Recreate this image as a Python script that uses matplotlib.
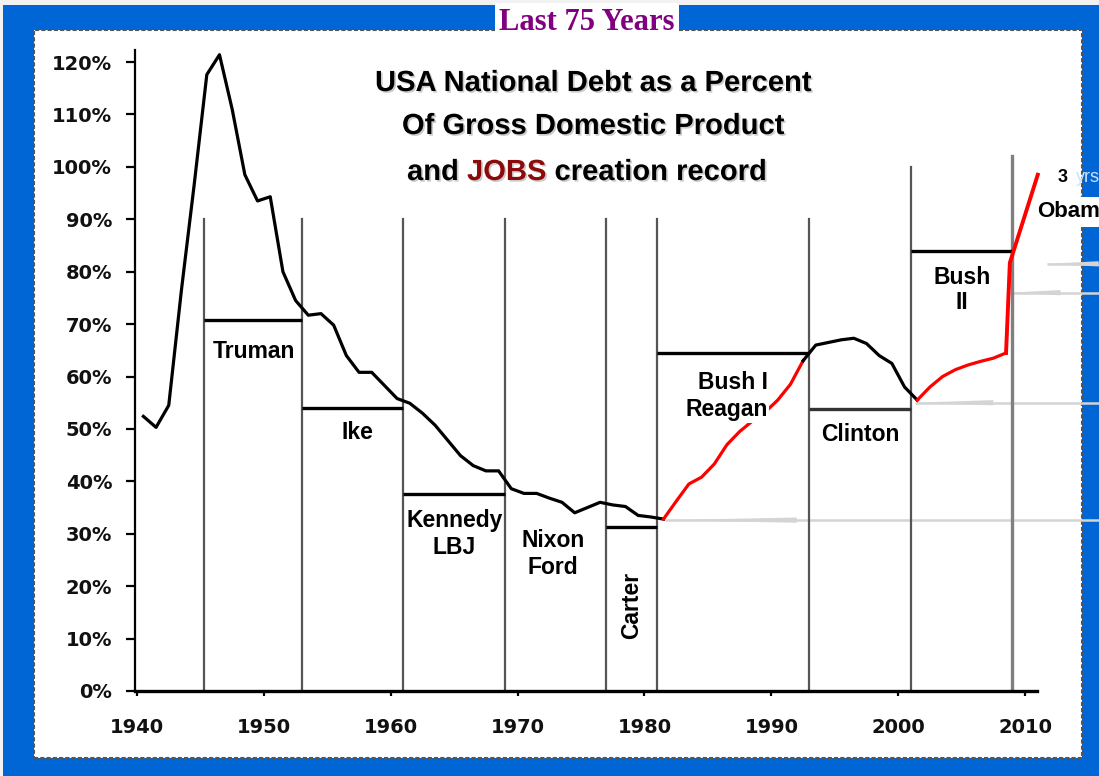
import numpy as np
import matplotlib
matplotlib.use('Agg')
import matplotlib.pyplot as plt
from matplotlib.patches import Rectangle
import matplotlib.patheffects as pe

# debt as % of GDP (plotted at mid-year)
years = np.arange(1940, 2009) + 0.5
debt = [52.4, 50.3, 54.5, 76.5, 96.5, 117.6, 121.4, 111, 98.5, 93.5,
        94.3, 80, 74.5, 71.7, 72, 69.8, 64, 60.8, 60.8, 58.3,
        55.8, 54.9, 53, 50.7, 47.8, 44.9, 43, 42, 42, 38.6,
        37.7, 37.7, 36.8, 36, 34, 35, 36, 35.5, 35.2, 33.5,
        33.2, 32.8, 36.2, 39.5, 40.8, 43.3, 47, 49.5, 51.5, 53.2,
        55.5, 58.5, 63, 66, 66.5, 67, 67.3, 66.3, 64, 62.5,
        58, 55.5, 58, 60, 61.3, 62.2, 62.9, 63.5, 64.5]
debt = np.array(debt)

obama_x = [2008.5, 2008.8, 2011.0]
obama_y = [64.5, 81.7, 98.5]

term_starts = [1945.25, 1953, 1961, 1969, 1977, 1981, 1993, 2001, 2009]
line_tops = [90, 90, 90, 90, 90, 90, 90, 100, 102]

bar_start = [1945.25, 1953, 1961, 1977, 1981, 1993, 2001]
bar_end = [1953, 1961, 1969, 1981, 1993, 2001, 2009]
bar_level = [70.8, 54, 37.6, 31.3, 64.5, 53.8, 84]

# gray pointer arrows: level, tip year, year where the wedge reaches full width
arrow_level = [32.6, 55, 76, 81.5]
arrow_tip = [1981.6, 2001.3, 2008.8, 2011.7]
arrow_base = [1992.0, 2007.5, 2012.8, 2015.8]

FONT = 'Liberation Sans'

fig = plt.figure(figsize=(10.99, 7.76), dpi=100, facecolor='#0066d5')
W, H = 1099, 776

# light strips at the very top/left and the white panel
fig.add_artist(Rectangle((0, 1 - 5 / H), 1, 5 / H, transform=fig.transFigure,
                         facecolor='#f2f2f2', edgecolor='none', zorder=-20))
fig.add_artist(Rectangle((0, 0), 3 / W, 1, transform=fig.transFigure,
                         facecolor='#f2f2f2', edgecolor='none', zorder=-20))
fig.add_artist(Rectangle((34 / W, 1 - 758 / H), (1082 - 34) / W, (758 - 30) / H,
                         transform=fig.transFigure, facecolor='white',
                         edgecolor='#555555', lw=1.5, ls=(0, (2, 1)), zorder=-10))

ax = fig.add_axes([135 / W, 1 - 691 / H, (1037 - 135) / W, (691 - 50) / H])
ax.set_facecolor('white')
ax.set_xlim(1939.84, 2010.94)
ax.set_ylim(0, 122.3)

# gray arrows coming in from the right (tapered wedge + thin line)
hw = 0.5
for lvl, tip, base in zip(arrow_level, arrow_tip, arrow_base):
    ax.plot([tip, 2017], [lvl, lvl], color='#d4d4d4', lw=1.8, zorder=1,
            clip_on=False, solid_capstyle='butt')
    ax.fill([tip, base, base], [lvl, lvl + hw, lvl - hw], color='#d4d4d4',
            lw=0, zorder=1, clip_on=False)

# term dividers
for x, top in zip(term_starts, line_tops):
    col = '#808080' if x == 2009 else '#555555'
    lw = 2.4 if x == 2009 else 1.6
    ax.plot([x, x], [0, top], color=col, lw=lw, zorder=2)

# starting debt level of each term
for x0, x1, lvl in zip(bar_start, bar_end, bar_level):
    col = '#333333' if x0 == 1993 else 'black'
    ax.plot([x0, x1], [lvl, lvl], color=col, lw=2.4, solid_capstyle='butt', zorder=3)

# debt curve
seg = [(1940, 1981.5, 'black'), (1981.5, 1992.5, 'red'),
       (1992.5, 2001.5, 'black'), (2001.5, 2009, 'red')]
for a, b, c in seg:
    m = (years >= a) & (years <= b)
    ax.plot(years[m], debt[m], color=c, lw=2.3, zorder=4)
ax.plot(obama_x, obama_y, color='red', lw=2.8, zorder=4, clip_on=False)

ax.spines['top'].set_visible(False)
ax.spines['right'].set_visible(False)
ax.spines['bottom'].set_linewidth(2.4)
ax.spines['left'].set_linewidth(1.6)
ax.set_yticks(range(0, 121, 10))
ax.set_yticklabels(['%d%%' % v for v in range(0, 121, 10)])
ax.set_xticks(range(1940, 2011, 10))
ax.tick_params(axis='y', length=6.5, width=1.6, pad=10, labelsize=14)
ax.tick_params(axis='x', length=3.5, width=1.6, pad=16, labelsize=14)
for t in ax.get_xticklabels() + ax.get_yticklabels():
    t.set_fontweight('bold')
    t.set_family('DejaVu Sans')
    t.set_color('#111111')

lab = dict(fontsize=16.5, fontweight='bold', family=FONT, ha='center', va='center', zorder=6)
ax.text(1949.2, 64.7, 'Truman', **lab)
ax.text(1957.4, 49.4, 'Ike', **lab)
ax.text(1965.0, 30.0, 'Kennedy\nLBJ', linespacing=1.25, **lab)
ax.text(1972.8, 26.1, 'Nixon\nFord', linespacing=1.25, **lab)
ax.text(1979.0, 16.4, 'Carter', rotation=90, **lab)
ax.text(1989.7, 56.3, 'Bush I\nReagan', linespacing=1.25, fontsize=16.5, fontweight='bold',
        family=FONT, ha='right', va='center', multialignment='right', zorder=6,
        bbox=dict(facecolor='white', edgecolor='none', pad=1))
ax.text(1997.0, 48.9, 'Clinton', **lab)
ax.text(2005.0, 76.5, 'Bush\nII', linespacing=1.1, **lab)

# title
shadow = [pe.withSimplePatchShadow(offset=(1.2, -1.2), shadow_rgbFace='#999999', alpha=0.5)]
tt = dict(fontsize=21, fontweight='bold', family=FONT, ha='center', va='center')
fig.text(593 / W, 1 - 83 / H, 'USA National Debt as a Percent', path_effects=shadow, **tt)
fig.text(593 / W, 1 - 126 / H, 'Of Gross Domestic Product', path_effects=shadow, **tt)
t1 = fig.text(407 / W, 1 - 172 / H, 'and ', fontsize=21, fontweight='bold', family=FONT,
              ha='left', va='center', path_effects=shadow)
t2 = fig.text(0, 0, 'JOBS', fontsize=21, fontweight='bold', family=FONT, color='#8b0a0a',
              path_effects=shadow)
t3 = fig.text(0, 0, ' creation record', fontsize=21, fontweight='bold', family=FONT,
              path_effects=shadow)
fig.canvas.draw()
r = fig.canvas.get_renderer()
bb = t1.get_window_extent(r)
t2.set_position((bb.x1 / W, bb.y0 / H))
t2.set_va('bottom')
bb2 = t2.get_window_extent(r)
t3.set_position((bb2.x1 / W, bb.y0 / H))
t3.set_va('bottom')

fig.text(587 / W, 1 - 22 / H, 'Last 75 Years', fontsize=22, fontweight='bold',
         family='Liberation Serif', color='#800080', ha='center', va='center', zorder=8,
         bbox=dict(facecolor='white', edgecolor='none', boxstyle='square,pad=0.15'))

# Obama tag at the right edge (cut off by the picture edge, as in the source)
fig.text(1063 / W, 1 - 178 / H, '3', fontsize=13, fontweight='bold', family=FONT,
         ha='center', va='center')
fig.text(1076 / W, 1 - 178 / H, 'yrs', fontsize=13, family=FONT, color='#cfe2ff',
         ha='left', va='center')
fig.text(1037 / W, 1 - 212 / H, 'Obama', fontsize=16, fontweight='bold', family=FONT,
         ha='left', va='center',
         bbox=dict(facecolor='white', edgecolor='none', boxstyle='square,pad=0.2'))

fig.savefig('out.png', dpi=100, facecolor=fig.get_facecolor())
